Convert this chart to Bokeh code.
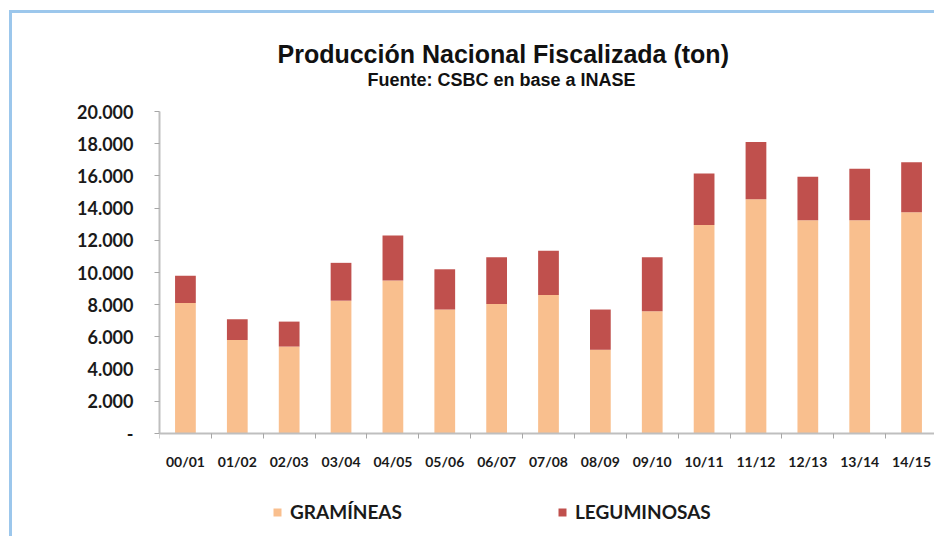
from bokeh.plotting import figure
from bokeh.models import ColumnDataSource, FixedTicker, Title, Legend
from bokeh.embed import file_html
from bokeh.resources import INLINE

seasons = ["00/01", "01/02", "02/03", "03/04", "04/05", "05/06", "06/07", "07/08",
           "08/09", "09/10", "10/11", "11/12", "12/13", "13/14", "14/15"]
gramineas = [8100, 5800, 5400, 8250, 9500, 7700, 8050, 8600, 5200, 7600, 12950, 14550, 13250, 13250, 13750]
total = [9800, 7100, 6950, 10600, 12300, 10200, 10950, 11350, 7700, 10950, 16150, 18100, 15950, 16450, 16850]
leguminosas = [t - g for t, g in zip(total, gramineas)]
series = ["GRAMÍNEAS", "LEGUMINOSAS"]
colors = ["#F9BF8E", "#C0504D"]
y_ticks = [0, 2000, 4000, 6000, 8000, 10000, 12000, 14000, 16000, 18000, 20000]
y_tick_labels = ["-", "2.000", "4.000", "6.000", "8.000", "10.000", "12.000",
                 "14.000", "16.000", "18.000", "20.000"]

xpos = [i + 0.5 for i in range(len(seasons))]
bounds = [i for i in range(len(seasons) + 1)]

# layout: the frame extends below zero to hold the axis labels and the legend
H, TOP = 526, 98
frame_h = H - TOP
axis_px = 322
y_top = y_ticks[-1]
y_low = -y_top * (frame_h - axis_px) / axis_px

src = ColumnDataSource(dict(x=xpos, GRAMÍNEAS=gramineas, LEGUMINOSAS=leguminosas))

p = figure(width=925, height=H, x_range=(0, len(seasons)), y_range=(y_low, y_top),
           output_backend="svg", toolbar_location=None, title=None,
           min_border_left=147, min_border_right=0, min_border_top=TOP, min_border_bottom=0)
p.styles = {"border-left": "3px solid #9CC7EC", "border-top": "3px solid #9CC7EC",
            "margin-left": "9px", "margin-top": "10px"}

rs = p.vbar_stack(series, x="x", width=0.4, source=src, color=colors, line_color=None)

p.xgrid.visible = False
p.ygrid.visible = False
p.outline_line_color = None
p.background_fill_color = "white"
p.border_fill_color = "white"

xa = p.xaxis[0]
xa.fixed_location = 0
xa.ticker = FixedTicker(ticks=xpos, minor_ticks=bounds)
xa.major_label_overrides = {x: s for x, s in zip(xpos, seasons)}
xa.major_tick_line_color = None
xa.major_tick_out = 0
xa.major_tick_in = 0
xa.minor_tick_line_color = "#A6A6A6"
xa.minor_tick_out = 5
xa.minor_tick_in = 0
xa.axis_line_color = "#BFBFBF"
xa.axis_line_width = 2
xa.major_label_text_font = "Lato"
xa.major_label_text_font_style = "bold"
xa.major_label_text_font_size = "14px"
xa.major_label_text_color = "#1a1a1a"
xa.major_label_standoff = 14

ya = p.yaxis[0]
ya.bounds = (0, y_top)
ya.ticker = FixedTicker(ticks=y_ticks)
ya.major_label_overrides = {v: s for v, s in zip(y_ticks, y_tick_labels)}
ya.minor_tick_line_color = None
ya.major_tick_line_color = "#A6A6A6"
ya.major_tick_out = 5
ya.major_tick_in = 0
ya.axis_line_color = "#BFBFBF"
ya.axis_line_width = 2
ya.major_label_text_font = "Lato"
ya.major_label_text_font_style = "bold"
ya.major_label_text_font_size = "18px"
ya.major_label_text_color = "#1a1a1a"
ya.major_label_standoff = 21

sub = Title(text="Fuente: CSBC en base a INASE", align="left", offset=208,
            text_font="Liberation Sans", text_font_style="bold", text_font_size="18px",
            text_color="#111111", standoff=43)
main = Title(text="Producción Nacional Fiscalizada (ton)", align="left", offset=118,
             text_font="Liberation Sans", text_font_style="bold", text_font_size="25px",
             text_color="#111111", standoff=-42)
p.add_layout(sub, "above")
p.add_layout(main, "above")

legend = Legend(items=[(series[0], [rs[0]]), (series[1], [rs[1]])],
                orientation="horizontal", location=(113, 16),
                glyph_width=10, glyph_height=10, label_standoff=8, spacing=18,
                label_width=249,
                padding=0, margin=0, border_line_color=None, background_fill_alpha=0,
                label_text_font="Lato", label_text_font_style="bold",
                label_text_font_size="19px", label_text_color="#1a1a1a")
p.add_layout(legend, "center")

open("out.html", "w").write(file_html(p, INLINE))
